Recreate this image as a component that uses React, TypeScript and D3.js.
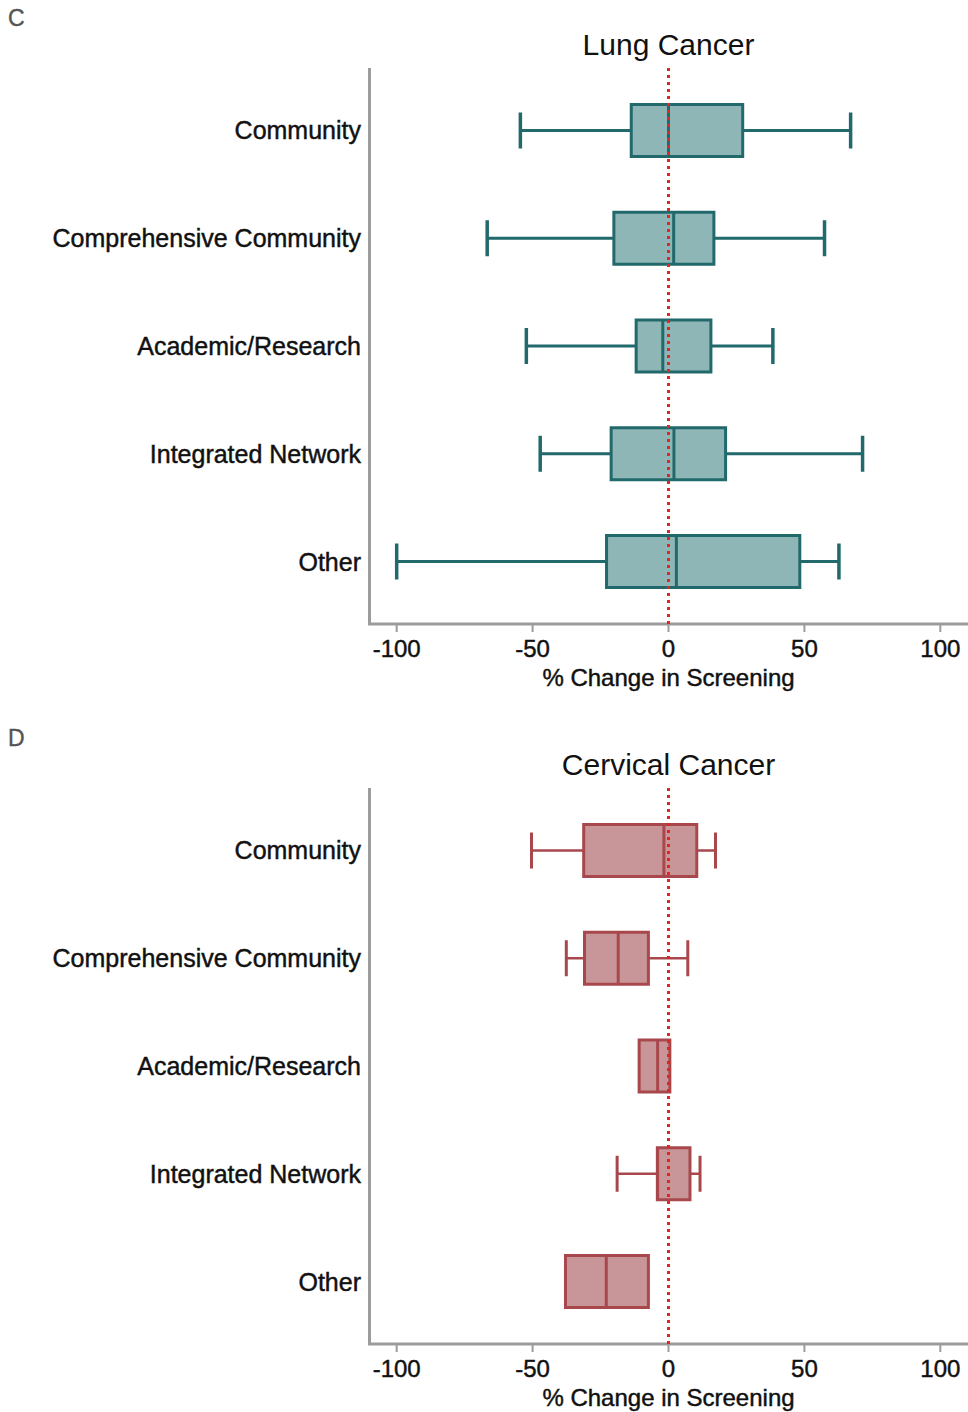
import { useRef, useEffect } from 'react';
import * as d3 from 'd3';

/* ── Data ───────────────────────────────────────────────────── */
const CATEGORIES = [
  "Community",
  "Comprehensive Community",
  "Academic/Research",
  "Integrated Network",
  "Other",
];

// Lung cancer: whisker low, Q1, median, Q3, whisker high
const LUNG_LOW    = [-54.5, -66.7, -52.3, -47.2, -100];
const LUNG_Q1     = [-13.7, -20.1, -11.9, -21.1, -22.8];
const LUNG_MEDIAN = [0, 1.9, -2.1, 2.0, 2.9];
const LUNG_Q3     = [27.3, 16.7, 15.6, 21.0, 48.3];
const LUNG_HIGH   = [67, 57.4, 38.4, 71.4, 62.7];

// Cervical cancer
const CERV_LOW    = [-50.4, -37.6, -10.8, -18.9, -37.9];
const CERV_Q1     = [-31.2, -30.9, -10.8, -4.1, -37.9];
const CERV_MEDIAN = [-1.7, -18.5, -4.0, -4.0, -22.9];
const CERV_Q3     = [10.4, -7.4, 0.5, 7.9, -7.4];
const CERV_HIGH   = [17.3, 7.1, 0.5, 11.6, -7.4];

const X_TICKS = [-100, -50, 0, 50, 100];

const PANELS = [
  {
    letter: "C", title: "Lung Cancer", top: 0,
    low: LUNG_LOW, q1: LUNG_Q1, median: LUNG_MEDIAN, q3: LUNG_Q3, high: LUNG_HIGH,
    fill: "#8fb6b6", stroke: "#22696c", whiskerWidth: 3,
  },
  {
    letter: "D", title: "Cervical Cancer", top: 720,
    low: CERV_LOW, q1: CERV_Q1, median: CERV_MEDIAN, q3: CERV_Q3, high: CERV_HIGH,
    fill: "#c89699", stroke: "#a8474c", whiskerWidth: 2.5,
  },
];

const FONT = "'Liberation Sans', Arial, Helvetica, sans-serif";

// slightly heavier than regular, like the original's rendering
function heavy(sel, size) {
  return sel
    .style("font-family", FONT).style("font-size", size)
    .style("fill", "#111")
    .style("stroke", "#111").style("stroke-width", "0.45px");
}

function App() {
  const svgRef = useRef(null);

  useEffect(() => {
    const svg = d3.select(svgRef.current);
    svg.selectAll("*").remove();

    const W = 968, H = 1412;
    svg.attr("width", W).attr("height", H).attr("viewBox", `0 0 ${W} ${H}`);

    const x = d3.scaleLinear().domain([-110, 110]).range([369.5, 967.5]);
    const plotTop = 68, plotBottom = 624;
    const y = d3.scalePoint()
      .domain(CATEGORIES)
      .range([plotTop, plotBottom])
      .padding(0.58);

    const boxH = 52, capH = 36;

    PANELS.forEach(p => {
      const g = svg.append("g").attr("transform", `translate(0,${p.top})`);

      // panel letter
      g.append("text")
        .attr("x", 8).attr("y", 26)
        .style("font-family", FONT).style("font-size", "23px")
        .style("fill", "#555").style("stroke", "#555").style("stroke-width", "0.4px")
        .text(p.letter);

      // title
      g.append("text")
        .attr("x", x(0)).attr("y", 55)
        .attr("text-anchor", "middle")
        .style("font-family", FONT).style("font-size", "30px")
        .style("fill", "#111")
        .text(p.title);

      // axes lines
      g.append("line")
        .attr("x1", x(-110)).attr("x2", x(-110))
        .attr("y1", plotTop).attr("y2", plotBottom)
        .attr("stroke", "#9c9c9c").attr("stroke-width", 3);
      g.append("line")
        .attr("x1", x(-110) - 1.5).attr("x2", W)
        .attr("y1", plotBottom).attr("y2", plotBottom)
        .attr("stroke", "#9c9c9c").attr("stroke-width", 3);

      // x ticks
      const ticks = g.append("g");
      X_TICKS.forEach(t => {
        ticks.append("line")
          .attr("x1", x(t)).attr("x2", x(t))
          .attr("y1", plotBottom).attr("y2", plotBottom + 8)
          .attr("stroke", "#9c9c9c").attr("stroke-width", 2);
        heavy(ticks.append("text"), "24px")
          .attr("x", x(t)).attr("y", plotBottom + 33)
          .attr("text-anchor", "middle")
          .text(t);
      });

      heavy(g.append("text"), "24px")
        .attr("x", x(0)).attr("y", plotBottom + 62)
        .attr("text-anchor", "middle")
        .text("% Change in Screening");

      // category labels
      CATEGORIES.forEach(c => {
        heavy(g.append("text"), "25px")
          .attr("x", 361).attr("y", y(c))
          .attr("dy", "0.36em")
          .attr("text-anchor", "end")
          .text(c);
      });

      // boxes
      const rows = CATEGORIES.map((c, i) => ({
        c, low: p.low[i], q1: p.q1[i], med: p.median[i], q3: p.q3[i], high: p.high[i],
      }));

      const box = g.selectAll("g.box").data(rows).enter()
        .append("g").attr("class", "box")
        .attr("transform", d => `translate(0,${y(d.c)})`);

      // whiskers
      box.append("line")
        .attr("x1", d => x(d.low)).attr("x2", d => x(d.q1))
        .attr("stroke", p.stroke).attr("stroke-width", p.whiskerWidth);
      box.append("line")
        .attr("x1", d => x(d.q3)).attr("x2", d => x(d.high))
        .attr("stroke", p.stroke).attr("stroke-width", p.whiskerWidth);
      box.filter(d => d.low < d.q1).append("line")
        .attr("x1", d => x(d.low)).attr("x2", d => x(d.low))
        .attr("y1", -capH / 2).attr("y2", capH / 2)
        .attr("stroke", p.stroke).attr("stroke-width", p.whiskerWidth + 0.5);
      box.filter(d => d.high > d.q3).append("line")
        .attr("x1", d => x(d.high)).attr("x2", d => x(d.high))
        .attr("y1", -capH / 2).attr("y2", capH / 2)
        .attr("stroke", p.stroke).attr("stroke-width", p.whiskerWidth + 0.5);

      box.append("rect")
        .attr("x", d => x(d.q1))
        .attr("width", d => x(d.q3) - x(d.q1))
        .attr("y", -boxH / 2).attr("height", boxH)
        .attr("fill", p.fill)
        .attr("stroke", p.stroke).attr("stroke-width", 3);

      box.append("line")
        .attr("x1", d => x(d.med)).attr("x2", d => x(d.med))
        .attr("y1", -boxH / 2).attr("y2", boxH / 2)
        .attr("stroke", p.stroke).attr("stroke-width", 3);

      // reference line at 0
      g.append("line")
        .attr("x1", x(0)).attr("x2", x(0))
        .attr("y1", plotTop).attr("y2", plotBottom)
        .attr("stroke", "#e0261f").attr("stroke-width", 3)
        .attr("stroke-dasharray", "3,4");
    });
  }, []);

  return (
    <div style={{ position: "absolute", left: 0, top: 0, background: "#fff" }}>
      <svg ref={svgRef} style={{ display: "block" }}></svg>
    </div>
  );
}

export default App;
